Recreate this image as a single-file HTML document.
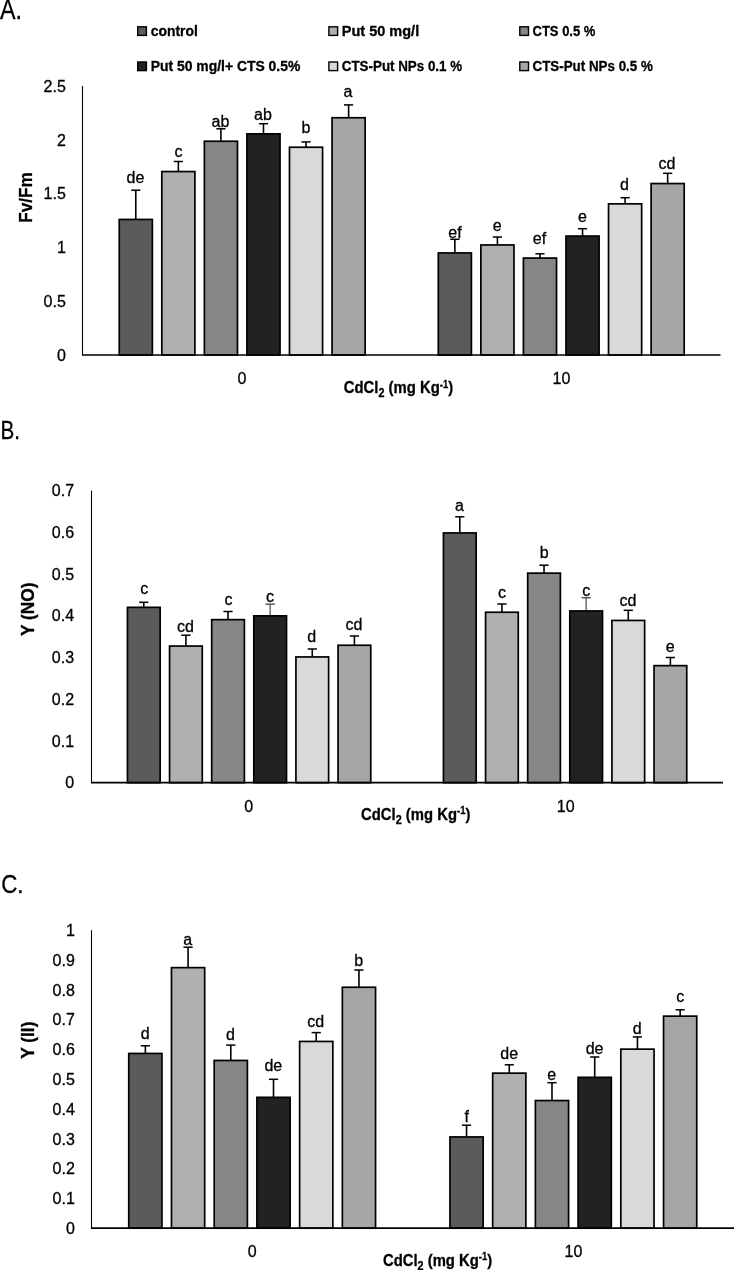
<!DOCTYPE html><html><head><meta charset="utf-8"><style>
html,body{margin:0;padding:0;background:#fff;width:734px;height:1270px;overflow:hidden}
svg{display:block;filter:grayscale(1)}
text{font-family:"Liberation Sans", sans-serif;stroke:#000;stroke-width:0.3px;paint-order:fill}
</style></head><body>
<svg width="734" height="1270" viewBox="0 0 734 1270">
<text x="0" y="18.7" font-size="27" textLength="22" lengthAdjust="spacingAndGlyphs">A.</text>
<text x="0.5" y="439" font-size="25.5" textLength="19.5" lengthAdjust="spacingAndGlyphs">B.</text>
<text x="1.2" y="893" font-size="26.5" textLength="22.3" lengthAdjust="spacingAndGlyphs">C.</text>
<rect x="137.70" y="26.80" width="8.7" height="8.6" fill="#5b5b5b" stroke="#000" stroke-width="1.4"/>
<text x="150.7" y="35.6" font-size="14.4" font-weight="bold" textLength="47.1" lengthAdjust="spacingAndGlyphs">control</text>
<rect x="328.90" y="26.80" width="8.7" height="8.6" fill="#b0b0b0" stroke="#000" stroke-width="1.4"/>
<text x="341.8" y="35.6" font-size="14.4" font-weight="bold" textLength="77.4" lengthAdjust="spacingAndGlyphs">Put 50 mg/l</text>
<rect x="519.80" y="26.80" width="8.7" height="8.6" fill="#868686" stroke="#000" stroke-width="1.4"/>
<text x="532.5" y="35.6" font-size="14.4" font-weight="bold" textLength="62.9" lengthAdjust="spacingAndGlyphs">CTS 0.5 %</text>
<rect x="137.70" y="62.00" width="8.7" height="8.6" fill="#222222" stroke="#000" stroke-width="1.4"/>
<text x="150.7" y="70.8" font-size="14.4" font-weight="bold" textLength="149.6" lengthAdjust="spacingAndGlyphs">Put 50 mg/l+ CTS 0.5%</text>
<rect x="328.90" y="62.00" width="8.7" height="8.6" fill="#d9d9d9" stroke="#000" stroke-width="1.4"/>
<text x="341.8" y="70.8" font-size="14.4" font-weight="bold" textLength="120.3" lengthAdjust="spacingAndGlyphs">CTS-Put NPs 0.1 %</text>
<rect x="519.80" y="62.00" width="8.7" height="8.6" fill="#a6a6a6" stroke="#000" stroke-width="1.4"/>
<text x="532.5" y="70.8" font-size="14.4" font-weight="bold" textLength="120.3" lengthAdjust="spacingAndGlyphs">CTS-Put NPs 0.5 %</text>
<text x="65.8" y="360.7" font-size="16.0" text-anchor="end">0</text>
<text x="65.8" y="306.9" font-size="16.0" text-anchor="end">0.5</text>
<text x="65.8" y="253.1" font-size="16.0" text-anchor="end">1</text>
<text x="65.8" y="199.3" font-size="16.0" text-anchor="end">1.5</text>
<text x="65.8" y="145.5" font-size="16.0" text-anchor="end">2</text>
<text x="65.8" y="91.7" font-size="16.0" text-anchor="end">2.5</text>
<line x1="135.80" y1="190.20" x2="135.80" y2="220.60" stroke="#000" stroke-width="1.6"/>
<line x1="131.20" y1="190.20" x2="140.40" y2="190.20" stroke="#000" stroke-width="1.5"/>
<rect x="119.25" y="219.45" width="33.10" height="135.55" fill="#5b5b5b" stroke="#000" stroke-width="1.7"/>
<line x1="178.36" y1="161.50" x2="178.36" y2="172.70" stroke="#000" stroke-width="1.6"/>
<line x1="173.76" y1="161.50" x2="182.96" y2="161.50" stroke="#000" stroke-width="1.5"/>
<rect x="161.81" y="171.55" width="33.10" height="183.45" fill="#b0b0b0" stroke="#000" stroke-width="1.7"/>
<line x1="220.92" y1="128.80" x2="220.92" y2="142.40" stroke="#000" stroke-width="1.6"/>
<line x1="216.32" y1="128.80" x2="225.52" y2="128.80" stroke="#000" stroke-width="1.5"/>
<rect x="204.37" y="141.25" width="33.10" height="213.75" fill="#868686" stroke="#000" stroke-width="1.7"/>
<line x1="263.48" y1="123.70" x2="263.48" y2="135.00" stroke="#000" stroke-width="1.6"/>
<line x1="258.88" y1="123.70" x2="268.08" y2="123.70" stroke="#000" stroke-width="1.5"/>
<rect x="246.93" y="133.85" width="33.10" height="221.15" fill="#222222" stroke="#000" stroke-width="1.7"/>
<line x1="306.04" y1="141.90" x2="306.04" y2="148.40" stroke="#000" stroke-width="1.6"/>
<line x1="301.44" y1="141.90" x2="310.64" y2="141.90" stroke="#000" stroke-width="1.5"/>
<rect x="289.49" y="147.25" width="33.10" height="207.75" fill="#d9d9d9" stroke="#000" stroke-width="1.7"/>
<line x1="348.60" y1="104.90" x2="348.60" y2="118.90" stroke="#000" stroke-width="1.6"/>
<line x1="344.00" y1="104.90" x2="353.20" y2="104.90" stroke="#000" stroke-width="1.5"/>
<rect x="332.05" y="117.75" width="33.10" height="237.25" fill="#a6a6a6" stroke="#000" stroke-width="1.7"/>
<line x1="454.85" y1="239.30" x2="454.85" y2="254.10" stroke="#000" stroke-width="1.6"/>
<line x1="450.25" y1="239.30" x2="459.45" y2="239.30" stroke="#000" stroke-width="1.5"/>
<rect x="438.30" y="252.95" width="33.10" height="102.05" fill="#5b5b5b" stroke="#000" stroke-width="1.7"/>
<line x1="497.41" y1="237.00" x2="497.41" y2="246.10" stroke="#000" stroke-width="1.6"/>
<line x1="492.81" y1="237.00" x2="502.01" y2="237.00" stroke="#000" stroke-width="1.5"/>
<rect x="480.86" y="244.95" width="33.10" height="110.05" fill="#b0b0b0" stroke="#000" stroke-width="1.7"/>
<line x1="539.97" y1="253.80" x2="539.97" y2="259.20" stroke="#000" stroke-width="1.6"/>
<line x1="535.37" y1="253.80" x2="544.57" y2="253.80" stroke="#000" stroke-width="1.5"/>
<rect x="523.42" y="258.05" width="33.10" height="96.95" fill="#868686" stroke="#000" stroke-width="1.7"/>
<line x1="582.53" y1="228.70" x2="582.53" y2="237.20" stroke="#000" stroke-width="1.6"/>
<line x1="577.93" y1="228.70" x2="587.13" y2="228.70" stroke="#000" stroke-width="1.5"/>
<rect x="565.98" y="236.05" width="33.10" height="118.95" fill="#222222" stroke="#000" stroke-width="1.7"/>
<line x1="625.09" y1="197.70" x2="625.09" y2="205.00" stroke="#000" stroke-width="1.6"/>
<line x1="620.49" y1="197.70" x2="629.69" y2="197.70" stroke="#000" stroke-width="1.5"/>
<rect x="608.54" y="203.85" width="33.10" height="151.15" fill="#d9d9d9" stroke="#000" stroke-width="1.7"/>
<line x1="667.65" y1="173.30" x2="667.65" y2="184.70" stroke="#000" stroke-width="1.6"/>
<line x1="663.05" y1="173.30" x2="672.25" y2="173.30" stroke="#000" stroke-width="1.5"/>
<rect x="651.10" y="183.55" width="33.10" height="171.45" fill="#a6a6a6" stroke="#000" stroke-width="1.7"/>
<line x1="82.50" y1="86.00" x2="82.50" y2="355.00" stroke="#000" stroke-width="1.05"/>
<line x1="82.00" y1="355.00" x2="720.50" y2="355.00" stroke="#000" stroke-width="1.7"/>
<text x="135.5" y="183.0" font-size="16.0" text-anchor="middle">de</text>
<text x="178.5" y="157.0" font-size="16.0" text-anchor="middle">c</text>
<text x="220.4" y="127.4" font-size="16.0" text-anchor="middle">ab</text>
<text x="263.0" y="120.0" font-size="16.0" text-anchor="middle">ab</text>
<text x="305.9" y="133.0" font-size="16.0" text-anchor="middle">b</text>
<text x="347.9" y="96.9" font-size="16.0" text-anchor="middle">a</text>
<text x="455.0" y="238.3" font-size="16.0" text-anchor="middle">ef</text>
<text x="497.2" y="230.8" font-size="16.0" text-anchor="middle">e</text>
<text x="539.5" y="243.6" font-size="16.0" text-anchor="middle">ef</text>
<text x="582.4" y="222.0" font-size="16.0" text-anchor="middle">e</text>
<text x="624.5" y="189.5" font-size="16.0" text-anchor="middle">d</text>
<text x="667.0" y="169.1" font-size="16.0" text-anchor="middle">cd</text>
<text x="242.0" y="384.0" font-size="16.0" text-anchor="middle">0</text>
<text x="561.4" y="384.0" font-size="16.0" text-anchor="middle">10</text>
<text x="343.8" y="393.3" font-size="16.5" font-weight="bold" textLength="109.3" lengthAdjust="spacingAndGlyphs">CdCl<tspan font-size="12" dy="4">2</tspan><tspan dy="-4"> (mg Kg</tspan><tspan font-size="10.5" dy="-5.5">-1</tspan><tspan dy="5.5">)</tspan></text>
<text transform="translate(31.6,222.8) rotate(-90)" x="0" y="0" font-size="18.0" font-weight="bold" textLength="50.5" lengthAdjust="spacingAndGlyphs">Fv/Fm</text>
<text x="74.1" y="788.4" font-size="16.0" text-anchor="end">0</text>
<text x="74.1" y="746.7" font-size="16.0" text-anchor="end">0.1</text>
<text x="74.1" y="704.9" font-size="16.0" text-anchor="end">0.2</text>
<text x="74.1" y="663.2" font-size="16.0" text-anchor="end">0.3</text>
<text x="74.1" y="621.4" font-size="16.0" text-anchor="end">0.4</text>
<text x="74.1" y="579.7" font-size="16.0" text-anchor="end">0.5</text>
<text x="74.1" y="537.9" font-size="16.0" text-anchor="end">0.6</text>
<text x="74.1" y="496.2" font-size="16.0" text-anchor="end">0.7</text>
<line x1="143.80" y1="602.30" x2="143.80" y2="608.50" stroke="#000" stroke-width="1.6"/>
<line x1="139.20" y1="602.30" x2="148.40" y2="602.30" stroke="#000" stroke-width="1.5"/>
<rect x="127.45" y="607.35" width="32.70" height="175.35" fill="#5b5b5b" stroke="#000" stroke-width="1.7"/>
<line x1="185.92" y1="635.20" x2="185.92" y2="647.20" stroke="#000" stroke-width="1.6"/>
<line x1="181.32" y1="635.20" x2="190.52" y2="635.20" stroke="#000" stroke-width="1.5"/>
<rect x="169.57" y="646.05" width="32.70" height="136.65" fill="#b0b0b0" stroke="#000" stroke-width="1.7"/>
<line x1="228.04" y1="611.50" x2="228.04" y2="620.80" stroke="#000" stroke-width="1.6"/>
<line x1="223.44" y1="611.50" x2="232.64" y2="611.50" stroke="#000" stroke-width="1.5"/>
<rect x="211.69" y="619.65" width="32.70" height="163.05" fill="#868686" stroke="#000" stroke-width="1.7"/>
<line x1="270.16" y1="604.20" x2="270.16" y2="617.00" stroke="#767676" stroke-width="1.6"/>
<line x1="265.56" y1="604.20" x2="274.76" y2="604.20" stroke="#555555" stroke-width="1.5"/>
<rect x="253.81" y="615.85" width="32.70" height="166.85" fill="#222222" stroke="#000" stroke-width="1.7"/>
<line x1="312.28" y1="649.00" x2="312.28" y2="658.10" stroke="#000" stroke-width="1.6"/>
<line x1="307.68" y1="649.00" x2="316.88" y2="649.00" stroke="#000" stroke-width="1.5"/>
<rect x="295.93" y="656.95" width="32.70" height="125.75" fill="#d9d9d9" stroke="#000" stroke-width="1.7"/>
<line x1="354.40" y1="636.00" x2="354.40" y2="646.40" stroke="#000" stroke-width="1.6"/>
<line x1="349.80" y1="636.00" x2="359.00" y2="636.00" stroke="#000" stroke-width="1.5"/>
<rect x="338.05" y="645.25" width="32.70" height="137.45" fill="#a6a6a6" stroke="#000" stroke-width="1.7"/>
<line x1="459.80" y1="516.80" x2="459.80" y2="534.10" stroke="#000" stroke-width="1.6"/>
<line x1="455.20" y1="516.80" x2="464.40" y2="516.80" stroke="#000" stroke-width="1.5"/>
<rect x="443.45" y="532.95" width="32.70" height="249.75" fill="#5b5b5b" stroke="#000" stroke-width="1.7"/>
<line x1="501.92" y1="604.00" x2="501.92" y2="613.40" stroke="#000" stroke-width="1.6"/>
<line x1="497.32" y1="604.00" x2="506.52" y2="604.00" stroke="#000" stroke-width="1.5"/>
<rect x="485.57" y="612.25" width="32.70" height="170.45" fill="#b0b0b0" stroke="#000" stroke-width="1.7"/>
<line x1="544.04" y1="565.20" x2="544.04" y2="574.30" stroke="#000" stroke-width="1.6"/>
<line x1="539.44" y1="565.20" x2="548.64" y2="565.20" stroke="#000" stroke-width="1.5"/>
<rect x="527.69" y="573.15" width="32.70" height="209.55" fill="#868686" stroke="#000" stroke-width="1.7"/>
<line x1="586.16" y1="597.70" x2="586.16" y2="612.10" stroke="#767676" stroke-width="1.6"/>
<line x1="581.56" y1="597.70" x2="590.76" y2="597.70" stroke="#555555" stroke-width="1.5"/>
<rect x="569.81" y="610.95" width="32.70" height="171.75" fill="#222222" stroke="#000" stroke-width="1.7"/>
<line x1="628.28" y1="610.30" x2="628.28" y2="621.60" stroke="#000" stroke-width="1.6"/>
<line x1="623.68" y1="610.30" x2="632.88" y2="610.30" stroke="#000" stroke-width="1.5"/>
<rect x="611.93" y="620.45" width="32.70" height="162.25" fill="#d9d9d9" stroke="#000" stroke-width="1.7"/>
<line x1="670.40" y1="657.50" x2="670.40" y2="666.80" stroke="#000" stroke-width="1.6"/>
<line x1="665.80" y1="657.50" x2="675.00" y2="657.50" stroke="#000" stroke-width="1.5"/>
<rect x="654.05" y="665.65" width="32.70" height="117.05" fill="#a6a6a6" stroke="#000" stroke-width="1.7"/>
<line x1="91.50" y1="490.50" x2="91.50" y2="782.70" stroke="#000" stroke-width="1.05"/>
<line x1="91.00" y1="782.70" x2="723.00" y2="782.70" stroke="#000" stroke-width="1.7"/>
<text x="144.2" y="593.6" font-size="16.0" text-anchor="middle">c</text>
<text x="185.5" y="631.7" font-size="16.0" text-anchor="middle">cd</text>
<text x="228.4" y="605.1" font-size="16.0" text-anchor="middle">c</text>
<text x="270.1" y="601.6" font-size="16.0" text-anchor="middle">c</text>
<text x="311.8" y="642.3" font-size="16.0" text-anchor="middle">d</text>
<text x="354.0" y="630.3" font-size="16.0" text-anchor="middle">cd</text>
<text x="459.5" y="510.6" font-size="16.0" text-anchor="middle">a</text>
<text x="502.0" y="598.0" font-size="16.0" text-anchor="middle">c</text>
<text x="544.1" y="558.4" font-size="16.0" text-anchor="middle">b</text>
<text x="586.2" y="596.1" font-size="16.0" text-anchor="middle">c</text>
<text x="628.0" y="605.9" font-size="16.0" text-anchor="middle">cd</text>
<text x="670.1" y="651.6" font-size="16.0" text-anchor="middle">e</text>
<text x="248.8" y="811.6" font-size="16.0" text-anchor="middle">0</text>
<text x="565.7" y="811.6" font-size="16.0" text-anchor="middle">10</text>
<text x="361.0" y="819.8" font-size="16.5" font-weight="bold" textLength="109.4" lengthAdjust="spacingAndGlyphs">CdCl<tspan font-size="12" dy="4">2</tspan><tspan dy="-4"> (mg Kg</tspan><tspan font-size="10.5" dy="-5.5">-1</tspan><tspan dy="5.5">)</tspan></text>
<text transform="translate(33.6,636.1) rotate(-90)" x="0" y="0" font-size="18.0" font-weight="bold" textLength="53.5" lengthAdjust="spacingAndGlyphs">Y (NO)</text>
<text x="74.8" y="1233.9" font-size="16.0" text-anchor="end">0</text>
<text x="74.8" y="1204.1" font-size="16.0" text-anchor="end">0.1</text>
<text x="74.8" y="1174.3" font-size="16.0" text-anchor="end">0.2</text>
<text x="74.8" y="1144.5" font-size="16.0" text-anchor="end">0.3</text>
<text x="74.8" y="1114.7" font-size="16.0" text-anchor="end">0.4</text>
<text x="74.8" y="1084.9" font-size="16.0" text-anchor="end">0.5</text>
<text x="74.8" y="1055.1" font-size="16.0" text-anchor="end">0.6</text>
<text x="74.8" y="1025.3" font-size="16.0" text-anchor="end">0.7</text>
<text x="74.8" y="995.5" font-size="16.0" text-anchor="end">0.8</text>
<text x="74.8" y="965.7" font-size="16.0" text-anchor="end">0.9</text>
<text x="74.8" y="935.9" font-size="16.0" text-anchor="end">1</text>
<line x1="145.35" y1="1045.80" x2="145.35" y2="1054.60" stroke="#000" stroke-width="1.6"/>
<line x1="140.75" y1="1045.80" x2="149.95" y2="1045.80" stroke="#000" stroke-width="1.5"/>
<rect x="128.75" y="1053.45" width="33.20" height="174.75" fill="#5b5b5b" stroke="#000" stroke-width="1.7"/>
<line x1="188.07" y1="947.20" x2="188.07" y2="968.80" stroke="#000" stroke-width="1.6"/>
<line x1="183.47" y1="947.20" x2="192.67" y2="947.20" stroke="#000" stroke-width="1.5"/>
<rect x="171.47" y="967.65" width="33.20" height="260.55" fill="#b0b0b0" stroke="#000" stroke-width="1.7"/>
<line x1="230.79" y1="1045.10" x2="230.79" y2="1061.60" stroke="#000" stroke-width="1.6"/>
<line x1="226.19" y1="1045.10" x2="235.39" y2="1045.10" stroke="#000" stroke-width="1.5"/>
<rect x="214.19" y="1060.45" width="33.20" height="167.75" fill="#868686" stroke="#000" stroke-width="1.7"/>
<line x1="273.51" y1="1079.30" x2="273.51" y2="1098.50" stroke="#000" stroke-width="1.6"/>
<line x1="268.91" y1="1079.30" x2="278.11" y2="1079.30" stroke="#000" stroke-width="1.5"/>
<rect x="256.91" y="1097.35" width="33.20" height="130.85" fill="#222222" stroke="#000" stroke-width="1.7"/>
<line x1="316.23" y1="1032.60" x2="316.23" y2="1042.60" stroke="#000" stroke-width="1.6"/>
<line x1="311.63" y1="1032.60" x2="320.83" y2="1032.60" stroke="#000" stroke-width="1.5"/>
<rect x="299.63" y="1041.45" width="33.20" height="186.75" fill="#d9d9d9" stroke="#000" stroke-width="1.7"/>
<line x1="358.95" y1="970.00" x2="358.95" y2="988.40" stroke="#000" stroke-width="1.6"/>
<line x1="354.35" y1="970.00" x2="363.55" y2="970.00" stroke="#000" stroke-width="1.5"/>
<rect x="342.35" y="987.25" width="33.20" height="240.95" fill="#a6a6a6" stroke="#000" stroke-width="1.7"/>
<line x1="466.55" y1="1125.20" x2="466.55" y2="1138.10" stroke="#000" stroke-width="1.6"/>
<line x1="461.95" y1="1125.20" x2="471.15" y2="1125.20" stroke="#000" stroke-width="1.5"/>
<rect x="449.95" y="1136.95" width="33.20" height="91.25" fill="#5b5b5b" stroke="#000" stroke-width="1.7"/>
<line x1="509.27" y1="1064.80" x2="509.27" y2="1074.30" stroke="#000" stroke-width="1.6"/>
<line x1="504.67" y1="1064.80" x2="513.87" y2="1064.80" stroke="#000" stroke-width="1.5"/>
<rect x="492.67" y="1073.15" width="33.20" height="155.05" fill="#b0b0b0" stroke="#000" stroke-width="1.7"/>
<line x1="551.99" y1="1082.70" x2="551.99" y2="1101.70" stroke="#000" stroke-width="1.6"/>
<line x1="547.39" y1="1082.70" x2="556.59" y2="1082.70" stroke="#000" stroke-width="1.5"/>
<rect x="535.39" y="1100.55" width="33.20" height="127.65" fill="#868686" stroke="#000" stroke-width="1.7"/>
<line x1="594.71" y1="1057.00" x2="594.71" y2="1078.50" stroke="#000" stroke-width="1.6"/>
<line x1="590.11" y1="1057.00" x2="599.31" y2="1057.00" stroke="#000" stroke-width="1.5"/>
<rect x="578.11" y="1077.35" width="33.20" height="150.85" fill="#222222" stroke="#000" stroke-width="1.7"/>
<line x1="637.43" y1="1036.90" x2="637.43" y2="1050.30" stroke="#000" stroke-width="1.6"/>
<line x1="632.83" y1="1036.90" x2="642.03" y2="1036.90" stroke="#000" stroke-width="1.5"/>
<rect x="620.83" y="1049.15" width="33.20" height="179.05" fill="#d9d9d9" stroke="#000" stroke-width="1.7"/>
<line x1="680.15" y1="1009.80" x2="680.15" y2="1017.30" stroke="#000" stroke-width="1.6"/>
<line x1="675.55" y1="1009.80" x2="684.75" y2="1009.80" stroke="#000" stroke-width="1.5"/>
<rect x="663.55" y="1016.15" width="33.20" height="212.05" fill="#a6a6a6" stroke="#000" stroke-width="1.7"/>
<line x1="91.50" y1="930.20" x2="91.50" y2="1228.20" stroke="#000" stroke-width="1.05"/>
<line x1="91.00" y1="1228.20" x2="734.00" y2="1228.20" stroke="#000" stroke-width="1.7"/>
<text x="145.2" y="1038.7" font-size="16.0" text-anchor="middle">d</text>
<text x="187.7" y="944.9" font-size="16.0" text-anchor="middle">a</text>
<text x="230.5" y="1040.0" font-size="16.0" text-anchor="middle">d</text>
<text x="273.3" y="1071.0" font-size="16.0" text-anchor="middle">de</text>
<text x="315.8" y="1026.7" font-size="16.0" text-anchor="middle">cd</text>
<text x="358.8" y="966.2" font-size="16.0" text-anchor="middle">b</text>
<text x="466.7" y="1122.0" font-size="16.0" text-anchor="middle">f</text>
<text x="509.2" y="1058.5" font-size="16.0" text-anchor="middle">de</text>
<text x="551.6" y="1079.7" font-size="16.0" text-anchor="middle">e</text>
<text x="594.6" y="1054.4" font-size="16.0" text-anchor="middle">de</text>
<text x="637.2" y="1034.4" font-size="16.0" text-anchor="middle">d</text>
<text x="680.2" y="1001.9" font-size="16.0" text-anchor="middle">c</text>
<text x="252.3" y="1257.2" font-size="16.0" text-anchor="middle">0</text>
<text x="573.5" y="1257.2" font-size="16.0" text-anchor="middle">10</text>
<text x="383.0" y="1265.7" font-size="16.5" font-weight="bold" textLength="109.1" lengthAdjust="spacingAndGlyphs">CdCl<tspan font-size="12" dy="4">2</tspan><tspan dy="-4"> (mg Kg</tspan><tspan font-size="10.5" dy="-5.5">-1</tspan><tspan dy="5.5">)</tspan></text>
<text transform="translate(33.8,1058.7) rotate(-90)" x="0" y="0" font-size="18.0" font-weight="bold" textLength="37.1" lengthAdjust="spacingAndGlyphs">Y (II)</text>
</svg></body></html>
